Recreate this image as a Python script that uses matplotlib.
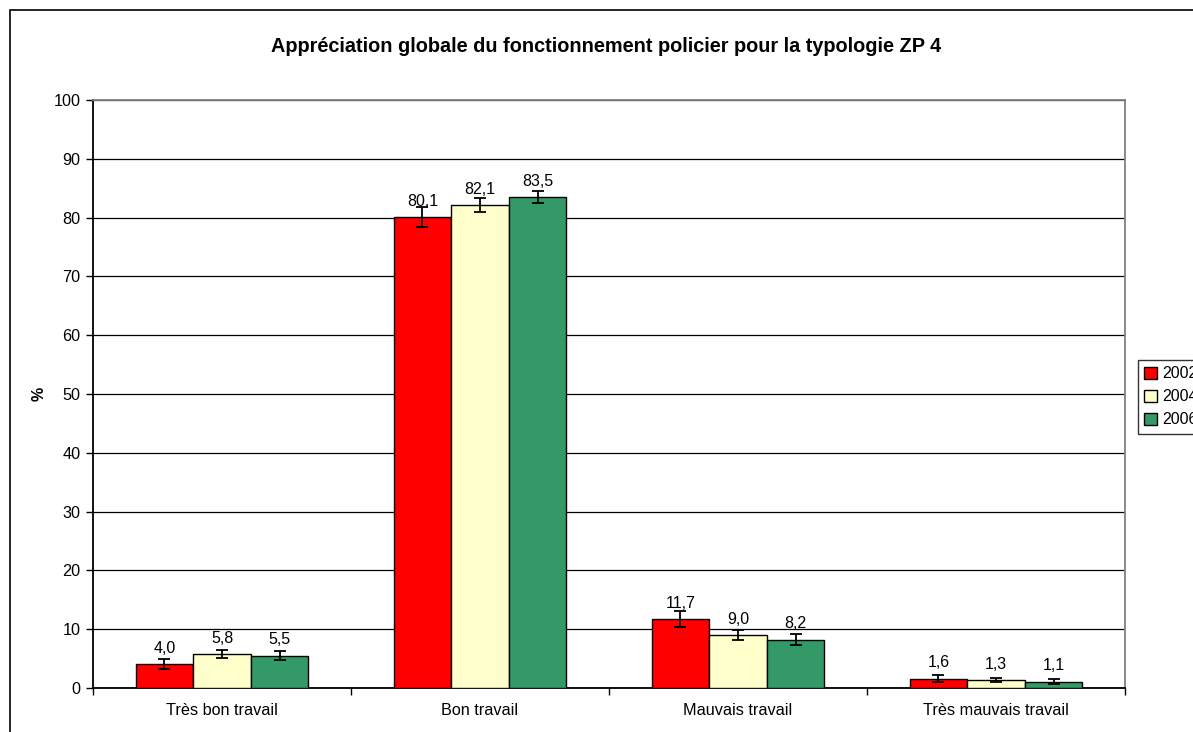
import matplotlib
matplotlib.use("Agg")
import matplotlib.pyplot as plt
import numpy as np
from matplotlib.patches import Rectangle

plt.rcParams['font.family'] = ['Liberation Sans', 'DejaVu Sans']

categories = ['Très bon travail', 'Bon travail', 'Mauvais travail', 'Très mauvais travail']
years = ['2002', '2004', '2006']
v2002 = [4.0, 80.1, 11.7, 1.6]
v2004 = [5.8, 82.1, 9.0, 1.3]
v2006 = [5.5, 83.5, 8.2, 1.1]
e2002 = [0.85, 1.7, 1.35, 0.6]
e2004 = [0.7, 1.2, 0.85, 0.35]
e2006 = [0.8, 1.1, 0.9, 0.35]
colors = ['#FF0000', '#FFFFCC', '#339966']

W, H = 1193, 732
fig = plt.figure(figsize=(W / 100, H / 100), dpi=100)
ax = fig.add_axes([93 / W, 44 / H, (1125 - 93) / W, (688 - 100) / H])

# outer chart border (cropped at right/bottom, like the original)
fig.patches.append(Rectangle((10 / W, -0.05), 1.2, 1 - 10 / H + 0.05, transform=fig.transFigure,
                             fill=False, edgecolor='black', linewidth=1.2))

x = np.arange(len(categories))
bw = 0.223
series = [v2002, v2004, v2006]
errs = [e2002, e2004, e2006]
for i, (vals, err, col, yr) in enumerate(zip(series, errs, colors, years)):
    xs = x + (i - 1) * bw
    ax.bar(xs, vals, bw, color=col, edgecolor='black', linewidth=1, label=yr, zorder=3)
    ax.errorbar(xs, vals, yerr=err, fmt='none', ecolor='black', elinewidth=1.3,
                capsize=4.5, capthick=1.3, zorder=4)
    for xx, v in zip(xs, vals):
        ax.annotate(('%.1f' % v).replace('.', ','), (xx, v), xytext=(0, 6),
                    textcoords='offset points', ha='center', va='bottom', fontsize=11.5)

ax.set_xlim(-0.5, 3.5)
ax.set_ylim(0, 100)
ax.set_yticks(range(0, 101, 10))
ax.yaxis.grid(True, color='black', linewidth=0.9, zorder=0)
ax.set_axisbelow(True)
ax.set_xticks(x)
ax.set_xticklabels(categories)
ax.set_xticks(np.arange(-0.5, 4, 1), minor=True)
ax.tick_params(axis='x', which='major', length=0, pad=11, labelsize=11.7)
ax.tick_params(axis='x', which='minor', length=5, width=1)
ax.tick_params(axis='y', length=5, width=1, labelsize=11.7, pad=4)

ax.spines['left'].set_color('black')
ax.spines['bottom'].set_color('black')
ax.spines['top'].set_color('#808080')
ax.spines['right'].set_color('#808080')
for s in ax.spines.values():
    s.set_linewidth(1.3)

ax.set_ylabel('%', fontsize=11.5, fontweight='bold', labelpad=5)
fig.text(606 / W, 1 - 46 / H, 'Appréciation globale du fonctionnement policier pour la typologie ZP 4',
         ha='center', va='center', fontsize=14.3, fontweight='bold')

leg = ax.legend(loc='upper left', bbox_to_anchor=(1138 / W, 1 - 360 / H), bbox_transform=fig.transFigure,
                fontsize=11.5, frameon=True, fancybox=False, edgecolor='black', handlelength=0.8,
                handleheight=0.8, handletextpad=0.3, borderpad=0.4, labelspacing=0.5,
                borderaxespad=0)
leg.get_frame().set_linewidth(1)

fig.savefig('out.png', dpi=100)
